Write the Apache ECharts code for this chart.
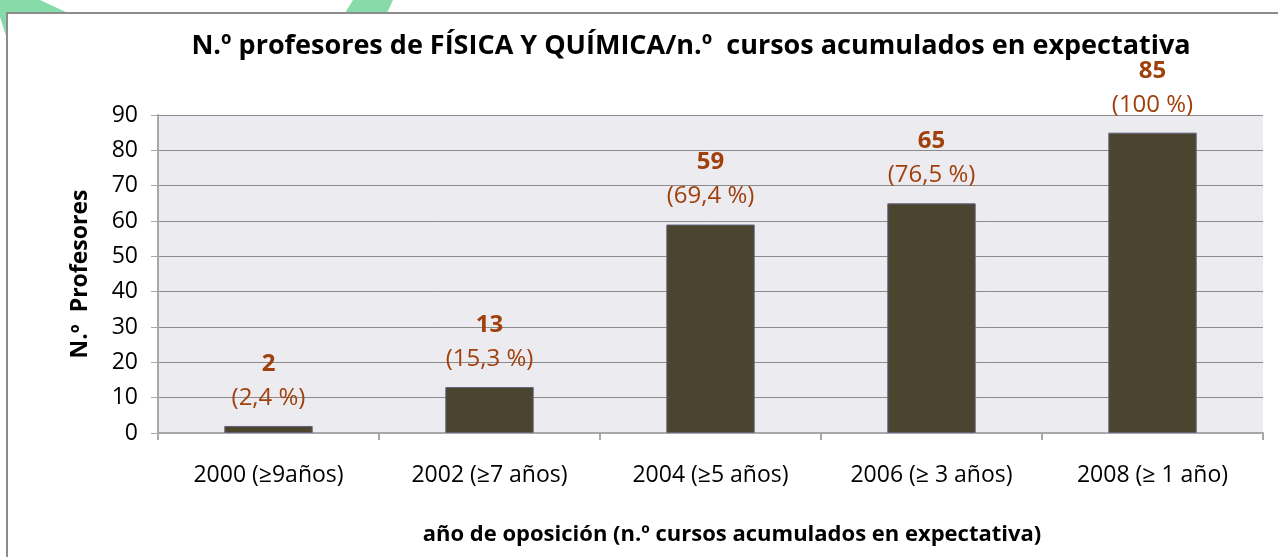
<!DOCTYPE html>
<html>
<head>
<meta charset="utf-8">
<script src="https://cdn.jsdelivr.net/npm/echarts@6/dist/echarts.min.js"></script>
<style>
  html, body { margin: 0; padding: 0; background: #fff; }
  #chart { width: 1278px; height: 557px; }
</style>
</head>
<body>
<div id="chart"></div>
<script>
const categories = ['2000 (≥9años)', '2002 (≥7 años)', '2004 (≥5 años)', '2006 (≥ 3 años)', '2008 (≥ 1 año)'];
const profesores = [2, 13, 59, 65, 85];
const porcentajes = ['2,4 %', '15,3 %', '69,4 %', '76,5 %', '100 %'];

const font = 'Open Sans';
const labelColor = '#a0410d';
const gridColor = '#8a8a8a';

const chart = echarts.init(document.getElementById('chart'));

const option = {
  backgroundColor: '#fff',
  animation: false,
  title: {
    text: 'N.º profesores de FÍSICA Y QUÍMICA/n.º  cursos acumulados en expectativa',
    left: 686,
    top: 28,
    textAlign: 'center',
    textStyle: { fontFamily: font, fontSize: 27, fontWeight: 'bold', color: '#000' }
  },
  graphic: [
    // decorative green shapes peeking from behind the chart
    { type: 'polygon', shape: { points: [[0, 0], [40, 0], [68, 13], [8, 13], [8, 42], [0, 17]] }, style: { fill: '#86dba8' }, z: 0 },
    { type: 'polygon', shape: { points: [[353, 0], [393, 0], [387, 13], [345, 13]] }, style: { fill: '#86dba8' }, z: 0 },
    // chart frame
    { type: 'polyline', shape: { points: [[7, 557], [7, 13], [1278, 13]] }, style: { stroke: '#8c8c8c', lineWidth: 2, fill: null }, z: 1 },
    {
      type: 'text', z: 2,
      style: {
        x: 732, y: 535,
        text: 'año de oposición (n.º cursos acumulados en expectativa)',
        fontFamily: font, fontSize: 22, fontWeight: 'bold', fill: '#000',
        textAlign: 'center', textVerticalAlign: 'middle'
      }
    }
  ],
  grid: {
    left: 158, right: 15, top: 115, bottom: 124,
    show: true, backgroundColor: '#ecebf0', borderWidth: 0
  },
  xAxis: {
    type: 'category',
    data: categories,
    axisLine: { lineStyle: { color: '#a8a8a8', width: 2 } },
    axisTick: { show: true, length: 7, lineStyle: { color: '#a8a8a8', width: 2 } },
    axisLabel: { margin: 31, fontFamily: font, fontSize: 23, color: '#000' }
  },
  yAxis: {
    type: 'value',
    min: 0, max: 90, interval: 10,
    name: 'N.º  Profesores',
    nameLocation: 'middle',
    nameGap: 66,
    nameTextStyle: { fontFamily: font, fontSize: 23, fontWeight: 'bold', color: '#000' },
    axisLine: { show: true, lineStyle: { color: '#a8a8a8', width: 2 } },
    axisTick: { show: true, length: 7, lineStyle: { color: '#a8a8a8' } },
    axisLabel: { margin: 20, fontFamily: font, fontSize: 23, color: '#000' },
    splitLine: { lineStyle: { color: gridColor, width: 1 } }
  },
  series: [{
    type: 'bar',
    data: profesores,
    barWidth: '40%',
    itemStyle: { color: '#4b442e', borderColor: '#62627e', borderWidth: 1 },
    label: {
      show: true,
      position: 'top',
      distance: 11,
      formatter: p => '{v|' + p.value + '}\n{p|(' + porcentajes[p.dataIndex] + ')}',
      rich: {
        v: { fontFamily: font, fontSize: 24, fontWeight: 'bold', color: labelColor, lineHeight: 34 },
        p: { fontFamily: font, fontSize: 24, color: labelColor, lineHeight: 34 }
      }
    }
  }]
};

chart.setOption(option);
</script>
</body>
</html>
